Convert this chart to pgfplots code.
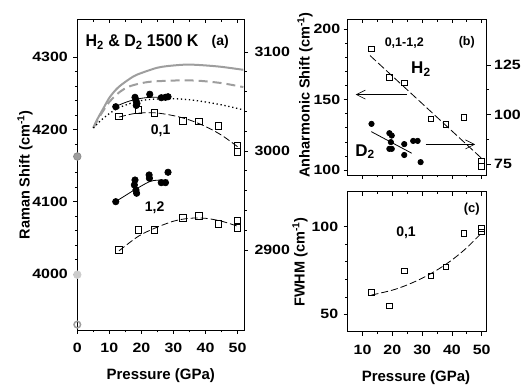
\documentclass[border=0pt]{standalone}
\usepackage{fontspec}
\setmainfont{Liberation Sans}
\newfontfamily\tickfont{Liberation Sans}[FakeStretch=1.18]
\newfontfamily\titlefont{Liberation Sans}[FakeStretch=0.94]
\usepackage{pgfplots}
\pgfplotsset{compat=1.18}
\usetikzlibrary{arrows.meta}
\definecolor{gA}{gray}{0.62}
\definecolor{gB}{gray}{0.80}
\newcommand{\fs}[1]{\fontsize{#1}{#1}\selectfont\bfseries}
\newcommand{\tfs}{\tickfont\fontsize{13.5}{13.5}\selectfont\bfseries}
\pgfplotsset{
  base/.style={scale only axis, clip=false,
    /pgf/number format/assume math mode=true,
    /pgf/number format/1000 sep={},
    tick label style={font=\tfs},
    major tick length=4pt, minor tick length=2.5pt,
    tick style={black, line width=0.6pt},
    axis line style={line width=0.7pt},
    every axis plot/.append style={line width=0.7pt}},
  pa/.style={base, at={(77.3pt,60pt)}, anchor=south west, width=166.7pt, height=310.5pt, xmin=0, xmax=52},
  pb/.style={base, at={(347.7pt,215pt)}, anchor=south west, width=139pt, height=155.7pt, xmin=5, xmax=51.7},
  pc/.style={base, at={(347.7pt,58.3pt)}, anchor=south west, width=139pt, height=140pt, xmin=5, xmax=51.7},
  topticks/.style={axis x line*=top, axis y line=none, tick align=inside, xtick={0,10,...,50}, minor x tick num=1, xticklabels={}, ymin=0, ymax=1},
  sq/.style={only marks, mark=square, mark size=3.3pt, mark options={line width=0.8pt, fill=white, solid}},
  sqs/.style={only marks, mark=square, mark size=2.8pt, mark options={line width=0.8pt, fill=white, solid}},
  dot/.style={only marks, mark=*, mark size=3.2pt, mark options={fill=black, solid}},
  dots/.style={only marks, mark=*, mark size=2.7pt, mark options={fill=black, solid}},
  fitdash/.style={black, line width=0.8pt, dash pattern=on 7pt off 3pt, smooth},
}
\begin{document}
\begin{tikzpicture}[x=1pt,y=1pt]
\useasboundingbox (0,0) rectangle (530,390);
% ---------------- panel (a) ----------------
\begin{axis}[pa, ymin=3922.5, ymax=4352,
  xtick={0,10,...,50}, minor x tick num=1, ytick={4000,4100,4200,4300}, minor y tick num=4,
  xtick pos=left, ytick pos=left, tick align=outside,
  xticklabel style={yshift=-6pt}, yticklabel style={xshift=-2pt}]
  % theory curves
  \addplot[gA, line width=2pt, smooth] coordinates {(5,4202) (6,4212) (8,4228) (10.2,4245) (13,4259) (17.4,4273) (20,4278) (24.7,4285) (28,4287.5) (32.9,4289.4) (36,4289.5) (40.2,4288.4) (45,4286.5) (51.8,4282.4)};
  \addplot[gA, line width=2pt, dash pattern=on 9pt off 5pt, smooth] coordinates {(5,4202) (7,4218) (10,4238) (13.3,4252) (16,4259) (19.5,4263.5) (23,4266) (27.8,4267.2) (33,4267.8) (38.1,4267.2) (45,4264) (51.8,4258.5)};
  \addplot[black, line width=1.3pt, dash pattern=on 1.3pt off 2.7pt, smooth] coordinates {(5,4202) (7.5,4213) (10.2,4222.5) (12.5,4229) (15.3,4234) (18,4238) (21.6,4241) (26,4242.3) (30.9,4242.3) (36,4240.5) (41.2,4237) (46,4233) (51.8,4227)};
  % H2 fits
  \addplot[fitdash] coordinates {(13,4217) (18,4222) (24,4223) (30,4219) (35,4213) (40,4204) (45,4192) (50,4176)};
  \addplot[fitdash] coordinates {(13,4032) (19,4052) (24,4063) (30,4073) (35,4077) (40,4077) (45,4073) (50,4066)};
  % H2 data
  \addplot[sq] coordinates {(13,4218) (19,4227) (24,4222.5) (33,4212) (38,4211) (44,4205) (50,4178) (50,4169)};
  \addplot[sq] coordinates {(13,4033.6) (19,4061) (24,4061) (33,4077.5) (38,4080) (44,4069) (50,4074) (50,4064)};
  % zero-pressure points
  \addplot[only marks, mark=*, mark size=3.8pt, mark options={fill=gA, draw=gray!90}] coordinates {(0,4162.5)};
  \addplot[only marks, mark=*, mark size=3.8pt, mark options={fill=gB, draw=gB}] coordinates {(0,3999)};
  \addplot[only marks, mark=o, mark size=3.3pt, mark options={draw=gA, line width=1.5pt}] coordinates {(0,3930)};
  \node[font=\titlefont\fs{17}] at (axis cs:20.2,4321) {H\textsubscript{2} \& D\textsubscript{2} 1500 K};
  \node[font=\fs{14}] at (axis cs:44.6,4321) {(a)};
  \node[font=\fs{14}] at (axis cs:26,4198.5) {0,1};
  \node[font=\fs{14}] at (axis cs:24.1,4092) {1,2};
\end{axis}
\begin{axis}[pa, topticks]\end{axis}
\begin{axis}[pa, ymin=2819.2, ymax=3132.8, axis y line*=right, axis x line=none,
  tick align=outside, ytick={2900,3000,3100}, minor y tick num=4, yticklabel style={xshift=3pt}]
  \addplot[black, line width=0.8pt, smooth] coordinates {(12,3045) (15,3049) (18,3052) (22,3054) (28.3,3054.5)};
  \addplot[black, line width=0.8pt, smooth] coordinates {(12,2949) (15,2955) (18,2961) (22.5,2969) (25,2970.5) (28.3,2970.7)};
  \addplot[dot] coordinates {(12,3044.7) (18,3054.2) (18.3,3051) (18.6,3048) (18.4,3046) (22.6,3057.3) (26.2,3053.8) (27.5,3054.2) (28.3,3054.8)};
  \addplot[dot] coordinates {(12,2948.8) (18,2970.7) (17.8,2965.7) (18.3,2960.6) (18.5,2957.3) (22.4,2975.8) (22.5,2972.4) (26.2,2968) (27.5,2968) (28.3,2978.5)};
\end{axis}
% ---------------- panel (b) ----------------
\begin{axis}[pb, ymin=96.5, ymax=206.9,
  xtick={10,20,...,50}, minor x tick num=1, xticklabels={}, ytick={100,150,200}, minor y tick num=4,
  xtick pos=left, ytick pos=left, tick align=outside]
  \addplot[black, line width=0.8pt, dash pattern=on 8pt off 3pt] coordinates {(12.5,181.2) (50,108.3)};
  \addplot[sqs] coordinates {(13,185.8) (19,165.5) (24,161.7) (33,136.4) (38,132.4) (44,137.4) (50,106.4) (50,102.4)};
  \draw[line width=0.6pt, -{Straight Barb[length=9pt,width=9pt]}] (axis cs:24.8,153.5) -- (axis cs:7.7,153.5);
  \draw[line width=0.6pt, -{Straight Barb[length=9pt,width=9pt]}] (axis cs:31.2,118.2) -- (axis cs:47.8,118.2);
  \node[font=\fs{12.5}] at (axis cs:24,190.3) {0,1-1,2};
  \node[font=\fs{12.5}] at (axis cs:45,190.3) {(b)};
  \node[font=\fs{17}] at (axis cs:29.6,171.6) {H\textsubscript{2}};
  \node[font=\fs{17}] at (axis cs:10.8,113) {D\textsubscript{2}};
\end{axis}
\begin{axis}[pb, topticks]\end{axis}
\begin{axis}[pb, ymin=69.4, ymax=148, axis y line*=right, axis x line=none,
  tick align=outside, ytick={75,100,125}, minor y tick num=1]
  \addplot[black, line width=0.8pt] coordinates {(12.9,91.3) (26.5,80.4)};
  \addplot[dots] coordinates {(13,95.2) (19,90.5) (19.8,89.3) (19.5,86) (19,82.6) (19.8,82.6) (24,85) (24,79.5) (27,86.6) (28.5,86.6) (29.5,75.9)};
\end{axis}
% ---------------- panel (c) ----------------
\begin{axis}[pc, ymin=40.1, ymax=120,
  xtick={10,20,...,50}, minor x tick num=1, ytick={50,100}, minor y tick num=4,
  xtick pos=left, ytick pos=left, tick align=outside,
  xticklabel style={yshift=-6pt}, yticklabel style={xshift=-2pt}]
  \addplot[black, line width=0.8pt, dash pattern=on 7pt off 3pt, smooth] coordinates {(13,61) (20,63.8) (25,66.8) (30,70.6) (35,75.3) (40,81) (45,88) (50,96.5)};
  \addplot[sqs] coordinates {(13,62.6) (19,54.9) (24,74.9) (33,72) (38,77) (44,96.2) (50,99.1) (50,97.1)};
  \node[font=\fs{14}] at (axis cs:24.6,96.6) {0,1};
  \node[font=\fs{13}] at (axis cs:46.7,110) {(c)};
\end{axis}
\begin{axis}[pc, topticks]\end{axis}
% ---------------- axis titles ----------------
\node[rotate=90, font=\fs{14.5}] at (25,215) {Raman Shift (cm\textsuperscript{-1})};
\node[rotate=90, font=\fs{14.5}] at (305,295) {Anharmonic Shift (cm\textsuperscript{-1})};
\node[rotate=90, font=\fs{14.5}] at (300,128) {FWHM (cm\textsuperscript{-1})};
\node[font=\fs{15}] at (160.8,14) {Pressure (GPa)};
\node[font=\fs{15}] at (416,12) {Pressure (GPa)};
\end{tikzpicture}
\end{document}
